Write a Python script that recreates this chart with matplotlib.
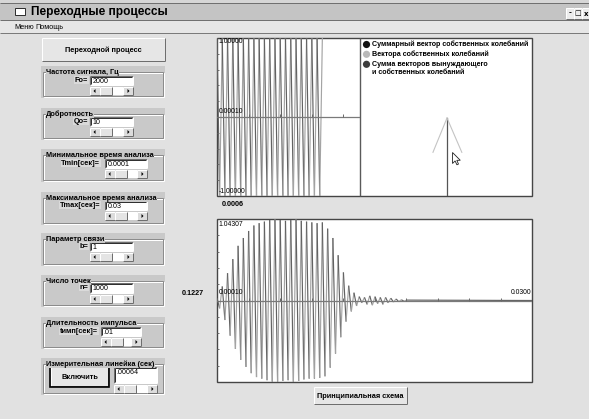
import matplotlib
matplotlib.use('Agg')
import matplotlib.pyplot as plt
from matplotlib.patches import Rectangle, Circle, Polygon
from matplotlib.collections import LineCollection
import numpy as np

plt.rcParams['font.family'] = ['Liberation Sans', 'DejaVu Sans']

W, H = 589, 419

# ---------------- data ----------------
window_title = "Переходные процессы"
menu_items = ["Меню", "Помощь"]
main_button = "Переходной процесс"
scheme_button = "Принципиальная схема"

group_titles = ["Частота сигнала, Гц", "Добротность", "Минимальное время анализа",
                "Максимальное время анализа", "Параметр связи", "Число точек",
                "Длительность импульса"]
group_labels = ["Fo=", "Qo=", "Tmin[сек]=", "Tmax[сек]=", "b=", "n=", "tимп[сек]="]
group_values = ["2000", "10", "0.0001", "0.03", "1", "1000", ".01"]
ruler_title = "Измерительная линейка (сек)"
ruler_button = "Включить"
ruler_value = ".00064"

legend_labels = ["Суммарный вектор собственных колебаний",
                 "Вектора собственных колебаний",
                 "Сумма векторов вынуждающего\nи собственных колебаний"]
legend_colors = ["#111111", "#b8b8b8", "#3c3c3c"]

f0 = 2000            # Hz
t_min = 0.0001       # s
t_max = 0.03         # s
top_ymax = 1.0
bot_ymax = 1.04307
top_labels = ["1.00000", "0.00010", "-1.00000"]
top_below_label = "0.0006"
bot_labels = ["1.04307", "0.00010", "0.0300"]
side_value = "0.1227"

# extremum amplitudes (per half period) of the forced impulse
drive_peaks = [1.0, 1.0, 1.0, 1.0, 1.0, 1.0, 1.0, 1.0, 1.0, 1.0,
               1.0, 1.0, 1.0, 1.0, 1.0, 1.0, 1.0, 1.0, 1.0, 1.0,
               1.0, 1.0, 1.0, 1.0, 1.0, 1.0, 1.0, 1.0, 1.0, 1.0,
               1.0, 1.0, 1.0, 1.0, 1.0, 1.0, 1.0, 1.0, 1.0, 1.0, 1.0]
# extremum amplitudes (per half period) of the transient response
response_peaks = [0.03, 0.10, 0.18, 0.25, 0.35, 0.45, 0.53, 0.62, 0.70, 0.76,
                  0.80, 0.85, 0.89, 0.93, 0.96, 0.98, 0.99, 1.00, 1.01, 1.02,
                  1.03, 1.04, 1.043, 1.04, 1.03, 1.03, 1.02, 1.02, 1.03, 1.04,
                  1.04, 1.03, 1.02, 1.01, 1.01, 1.00, 1.00, 1.00, 0.99, 0.99,
                  1.00, 0.97, 0.92, 0.86, 0.80, 0.68, 0.58, 0.47, 0.36, 0.27,
                  0.19, 0.14, 0.10, 0.07, 0.05, 0.03, 0.04, 0.05, 0.06, 0.06,
                  0.05, 0.04, 0.04, 0.05, 0.04, 0.03, 0.03, 0.02, 0.02, 0.015,
                  0.01, 0.01, 0.005]

# phasor panel: summed vector and the two eigen-vector strokes (units of summed vector length)
sum_vector = [(0.0, 0.0), (0.0, 1.0)]
eigen_vectors = [[(0.0, 1.0), (-0.18, 0.56)], [(0.0, 1.0), (0.19, 0.56)]]

# ---------------- helpers ----------------
BG = '#e1e1e1'
GB = '#c9c9c9'
fig = plt.figure(figsize=(W / 100, H / 100), dpi=100, facecolor=BG)
ov = fig.add_axes([0, 0, 1, 1])
ov.set_xlim(0, W)
ov.set_ylim(H, 0)
ov.axis('off')
LW = 0.72


def rect(x, y, w, h, fc='none', ec='none', lw=LW, z=1):
    ov.add_patch(Rectangle((x, y), w, h, facecolor=fc, edgecolor=ec, linewidth=lw, zorder=z))


def line(xs, ys, c, lw=LW, z=2):
    ov.plot(xs, ys, color=c, lw=lw, zorder=z, solid_capstyle='butt')


def bevel(x, y, w, h, raised=True, z=2):
    a, b = ('white', '#6e6e6e') if raised else ('#6e6e6e', 'white')
    line([x, x + w], [y, y], a, z=z)
    line([x, x], [y, y + h], a, z=z)
    line([x, x + w], [y + h, y + h], b, z=z)
    line([x + w, x + w], [y, y + h], b, z=z)


def txt(x, y, s, size=5.3, weight='bold', ha='left', va='center', color='black', z=5, **kw):
    ov.text(x, y, s, fontsize=size, fontweight=weight, ha=ha, va=va, color=color, zorder=z, **kw)


def button(x, y, w, h, label, default=False):
    rect(x, y, w, h, fc='#e6e6e6', z=2)
    bevel(x, y, w, h, True, z=3)
    if default:
        rect(x - 1, y - 1, w + 2, h + 2, ec='black', lw=1.2, z=3)
    txt(x + w / 2, y + h / 2 + 0.5, label, ha='center')


def edit(x, y, w, h, val):
    rect(x, y, w, h, fc='white', z=2)
    bevel(x, y, w, h, False, z=3)
    line([x + 1, x + w - 1], [y + 1, y + 1], '#303030', z=3)
    line([x + 1, x + 1], [y + 1, y + h - 1], '#303030', z=3)
    txt(x + 2.5, y + 5.2, val, size=5.1, weight='normal')


def scroll(x, y, w, h):
    rect(x, y, w, h, fc='white', z=2)
    bw = 10
    for bx in (x, x + w - bw):
        rect(bx, y, bw, h, fc='#dcdcdc', z=3)
        bevel(bx, y, bw, h, True, z=4)
    rect(x + bw, y, 12, h, fc='#e4e4e4', z=3)
    bevel(x + bw, y, 12, h, True, z=4)
    cy = y + h / 2
    ov.add_patch(Polygon([(x + 3.5, cy), (x + 5.5, cy - 2), (x + 5.5, cy + 2)], fc='black', ec='none', zorder=5))
    rx = x + w - bw
    ov.add_patch(Polygon([(rx + 6.5, cy), (rx + 4.5, cy - 2), (rx + 4.5, cy + 2)], fc='black', ec='none', zorder=5))


def group(x, y, w, h, title):
    rect(x, y, w, h, fc=GB, z=1)
    rect(x + 2, y + 6, w - 4, h - 8, ec='#8c8c8c', z=2)
    rect(x + 3, y + 7, w - 4, h - 8, ec='white', z=1.9)
    txt(x + 5, y + 6, title, bbox=dict(fc=GB, ec='none', pad=0.3))


# ---------------- window chrome ----------------
rect(0, 0, W, 3, fc='#d6d6d6', z=1)
rect(0, 3, W, 17, fc='#c4c4c4', z=1)
line([0, W], [3, 3], '#707070')
line([0, W], [20, 20], '#707070')
rect(15, 8, 10, 7, fc='white', ec='#303030', z=3)
txt(31, 12, window_title, size=8.6)
for i, g in enumerate(['-', '□', 'x']):
    bx = 566 + i * 8
    rect(bx, 8, 7.5, 11, fc='#ececec', z=3)
    bevel(bx, 8, 7.5, 11, True, z=4)
    txt(bx + 3.8, 13.5, g, size=5, ha='center', family='DejaVu Sans')
rect(0, 21, W, 12, fc='#e6e6e6', z=1)
txt(14, 27.5, menu_items[0], size=5.2, weight='normal')
txt(35, 27.5, menu_items[1], size=5.2, weight='normal')
line([0, W], [33.5, 33.5], '#7a7a7a')

# ---------------- left control panel ----------------
button(42, 38, 123, 23, main_button)

groups = [
    # (y, h, label_x_right, edit_x, edit_w, edit_y, edit_h)
    (66, 32, 88, 90, 43, 76, 9),
    (108, 32, 88, 90, 43, 117, 9),
    (149, 33, 100, 105, 42, 159, 9),
    (192, 33, 100, 105, 42, 201, 9),
    (233, 33, 88, 90, 43, 242, 9),
    (275, 32, 88, 90, 43, 283, 10),
    (317, 32, 98, 101, 40, 327, 9),
]
for (gy, gh, lxr, ex, ew, ey, eh), title, lab, val in zip(groups, group_titles, group_labels, group_values):
    group(41, gy, 124, gh, title)
    txt(lxr, ey + 4, lab, ha='right', bbox=dict(fc='#dadada', ec='none', pad=0.4))
    edit(ex, ey, ew, eh, val)
    scroll(ex, ey + eh + 2, ew, 8)

group(41, 358, 124, 37, ruler_title)
button(51, 367, 57, 19, ruler_button, default=True)
edit(114, 367, 43, 16, ruler_value)
scroll(114, 385, 43, 8)

txt(182, 293, side_value, size=5.2)
txt(222, 204, top_below_label, size=5.2)

# ---------------- chart frames ----------------
rect(217, 38, 315, 158, fc='white', ec='#454545', lw=1.0, z=1)
line([360, 360], [38, 196], '#5a5a5a', lw=1.0)
rect(217, 219, 315, 163, fc='white', ec='#454545', lw=1.0, z=1)
button(314, 387, 93, 17, scheme_button)

# ---------------- top-left: forced impulse ----------------
px_per_s = 315 / (t_max - t_min)
half = 1 / (2 * f0)


def zigzag(ax, peaks, extra_end=None):
    t = t_min + half * np.arange(len(peaks))
    sgn = np.where(np.arange(len(peaks)) % 2 == 0, 1.0, -1.0)
    v = sgn * np.array(peaks)
    if extra_end is not None:
        t = np.append(t, extra_end)
        v = np.append(v, 0.0)
    pts = np.column_stack([t, v])
    segs = np.stack([pts[:-1], pts[1:]], axis=1)
    cols = ['#626262' if i % 2 == 0 else '#a4a4a4' for i in range(len(segs))]
    ax.add_collection(LineCollection(segs, colors=cols, linewidths=0.85, zorder=2))
    return t


def chart_axes(x0, y0, w, h, xmax, ymax):
    ax = fig.add_axes([x0 / W, 1 - (y0 + h) / H, w / W, h / H])
    ax.set_xlim(t_min, xmax)
    ax.set_ylim(-ymax, ymax)
    ax.axis('off')
    ax.patch.set_alpha(0)
    return ax


ax_top = chart_axes(217, 38, 143, 158, t_min + 143 / px_per_s, top_ymax)
zigzag(ax_top, drive_peaks)
ax_top.axhline(0, color='#7a7a7a', lw=0.9, zorder=3)
tick_t = t_min + (t_max - t_min) / 10 * np.arange(1, 10)
ax_top.vlines(tick_t, 0, 3 / 79 * top_ymax, color='#6a6a6a', lw=0.7, zorder=3)
ax_top.hlines(top_ymax / 5 * np.arange(-4, 5), t_min, t_min + 2 / px_per_s, color='#6a6a6a', lw=0.7, zorder=3)
ax_top.text(t_min + 1.5 / px_per_s, top_ymax * 0.95, top_labels[0], fontsize=4.9, va='center', zorder=4)
ax_top.text(t_min + 1.5 / px_per_s, 0.07, top_labels[1], fontsize=4.9, va='center', zorder=4)
ax_top.text(t_min + 1.5 / px_per_s, -top_ymax * 0.94, top_labels[2], fontsize=4.9, va='center', zorder=4)

# ---------------- top-right: phasor panel ----------------
ax_vec = fig.add_axes([360 / W, 1 - 196 / H, 172 / W, 158 / H])
ax_vec.set_xlim((360 - 447) / 78, (532 - 447) / 78)
ax_vec.set_ylim(0, 158 / 78)
ax_vec.axis('off')
ax_vec.patch.set_alpha(0)
sv = np.array(sum_vector)
ax_vec.plot(sv[:, 0], sv[:, 1], color='#555555', lw=0.9)
for ev in eigen_vectors:
    e = np.array(ev)
    ax_vec.plot(e[:, 0], e[:, 1], color='#c4c4c4', lw=0.8)

ly = [44.5, 54.3, 64.3]
for yy, lab, col in zip(ly, legend_labels, legend_colors):
    ov.add_patch(Circle((366.5, yy), 3.6, fc=col, ec='none', zorder=4))
    for j, p in enumerate(lab.split('\n')):
        txt(371.5, yy + j * 8, p, size=5.1)

# mouse cursor
cx, cy = 452.5, 152.5
cur = [(0, 0), (0, 11), (2.6, 8.4), (4.4, 12.3), (6, 11.6), (4.3, 7.8), (7.8, 7.8)]
ov.add_patch(Polygon([(cx + a, cy + b) for a, b in cur], closed=True, fc='white', ec='#202020', lw=0.6, zorder=6))

# ---------------- bottom: transient response ----------------
ax_bot = chart_axes(217, 219, 315, 163, t_max, bot_ymax)
zigzag(ax_bot, response_peaks, extra_end=t_max)
ax_bot.axhline(0, color='#7a7a7a', lw=0.9, zorder=3)
ax_bot.vlines(tick_t, 0, 3 / 81.5 * bot_ymax, color='#6a6a6a', lw=0.7, zorder=3)
ax_bot.hlines(bot_ymax / 5 * np.arange(-4, 5), t_min, t_min + 2 / px_per_s, color='#6a6a6a', lw=0.7, zorder=3)
ax_bot.text(t_min + 1.5 / px_per_s, bot_ymax * 0.93, bot_labels[0], fontsize=4.9, va='center', zorder=4)
ax_bot.text(t_min + 1.5 / px_per_s, 0.1, bot_labels[1], fontsize=4.9, va='center', zorder=4)
ax_bot.text(t_max - 0.5 / px_per_s, 0.1, bot_labels[2], fontsize=4.9, va='center', ha='right', zorder=4)

fig.savefig('out.png', dpi=100, facecolor=BG)
